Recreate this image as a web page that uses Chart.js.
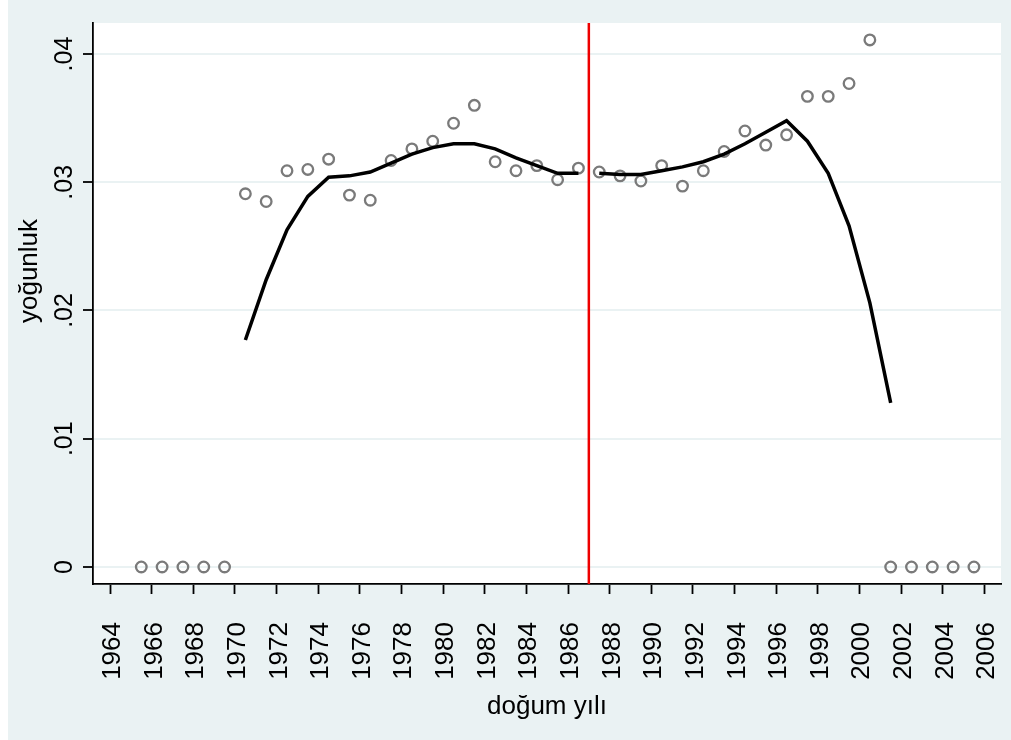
<!DOCTYPE html>
<html>
<head>
<meta charset="utf-8">
<script src="https://cdn.jsdelivr.net/npm/chart.js@4.4.1/dist/chart.umd.min.js"></script>
<style>
    html, body { margin: 0; padding: 0; background: #ffffff; }
    #wrap { position: absolute; left: 8px; top: 0; width: 1003px; height: 740px; background: #EAF2F3; }
</style>
</head>
<body>
<div id="wrap"><canvas id="rd" width="1003" height="740"></canvas></div>
<script>
// ========================================
// Data
// ========================================

// birth-year bins (mid points)
const binYears = [
    1965.5, 1966.5, 1967.5, 1968.5, 1969.5,
    1970.5, 1971.5, 1972.5, 1973.5, 1974.5, 1975.5, 1976.5, 1977.5, 1978.5,
    1979.5, 1980.5, 1981.5, 1982.5, 1983.5, 1984.5, 1985.5, 1986.5,
    1987.5, 1988.5, 1989.5, 1990.5, 1991.5, 1992.5, 1993.5, 1994.5,
    1995.5, 1996.5, 1997.5, 1998.5, 1999.5, 2000.5,
    2001.5, 2002.5, 2003.5, 2004.5, 2005.5
];
// density per bin (hollow circles)
const binDensity = [
    0, 0, 0, 0, 0,
    0.0291, 0.0285, 0.0309, 0.0310, 0.0318, 0.0290, 0.0286, 0.0317, 0.0326,
    0.0332, 0.0346, 0.0360, 0.0316, 0.0309, 0.0313, 0.0302, 0.0311,
    0.0308, 0.0305, 0.0301, 0.0313, 0.0297, 0.0309, 0.0324, 0.0340,
    0.0329, 0.0337, 0.0367, 0.0367, 0.0377, 0.0411,
    0, 0, 0, 0, 0
];

// smoothed fit, left of the cutoff
const fitLeftYears = [
    1970.5, 1971.5, 1972.5, 1973.5, 1974.5, 1975.5, 1976.5, 1977.5, 1978.5,
    1979.5, 1980.5, 1981.5, 1982.5, 1983.5, 1984.5, 1985.5, 1986.5
];
const fitLeftValues = [
    0.0177, 0.0224, 0.0263, 0.0289, 0.0304, 0.0305, 0.0308, 0.0315, 0.0322,
    0.0327, 0.0330, 0.0330, 0.0326, 0.0319, 0.0313, 0.0307, 0.0307
];

// smoothed fit, right of the cutoff
const fitRightYears = [
    1987.5, 1988.5, 1989.5, 1990.5, 1991.5, 1992.5, 1993.5, 1994.5,
    1995.5, 1996.5, 1997.5, 1998.5, 1999.5, 2000.5, 2001.5
];
const fitRightValues = [
    0.0307, 0.0306, 0.0306, 0.0309, 0.0312, 0.0316, 0.0322, 0.0330,
    0.0339, 0.0348, 0.0332, 0.0307, 0.0266, 0.0206, 0.0128
];

const cutoffYear = 1987;

// axis ranges and tick steps
const xMin = 1963.18, xMax = 2006.8, xStep = 2;
const yMin = -0.00133, yMax = 0.04242, yStep = 0.01;

const xTitle = 'doğum yılı';
const yTitle = 'yoğunluk';

// ========================================
// Helpers
// ========================================

const FONT = '"Liberation Sans", Arial, Helvetica, sans-serif';

function toPoints(xs, ys) {
    return xs.map((x, i) => ({ x: x, y: ys[i] }));
}

// Stata style ".04" labels
function formatDensity(v) {
    if (Math.abs(v) < 1e-9) return '0';
    return v.toFixed(2).replace(/^0/, '');
}

// white plot region on the bluish graph region
const plotRegionPlugin = {
    id: 'plotRegion',
    beforeDraw(chart) {
        const { ctx, chartArea } = chart;
        ctx.save();
        ctx.fillStyle = '#ffffff';
        ctx.fillRect(chartArea.left, chartArea.top, chartArea.right - chartArea.left, chartArea.bottom - chartArea.top);
        ctx.restore();
    }
};

// rotated tick labels (read bottom to top) and the y title
const rotatedTextPlugin = {
    id: 'rotatedText',
    afterDraw(chart) {
        const { ctx } = chart;
        const xs = chart.scales.x;
        const ys = chart.scales.y;
        ctx.save();
        ctx.fillStyle = '#000000';
        ctx.textBaseline = 'alphabetic';

        // x tick labels, end of text near the axis
        ctx.textAlign = 'right';
        ctx.font = '26px ' + FONT;
        xs.ticks.forEach(t => {
            const px = xs.getPixelForValue(t.value);
            ctx.save();
            ctx.translate(px + 10, xs.top + 38);
            ctx.rotate(-Math.PI / 2);
            ctx.fillText(String(t.value), 0, 0);
            ctx.restore();
        });

        // y tick labels, centred on the tick
        ctx.textAlign = 'center';
        ctx.font = '25px ' + FONT;
        ys.ticks.forEach(t => {
            const py = ys.getPixelForValue(t.value);
            ctx.save();
            ctx.translate(ys.right - 21, py);
            ctx.rotate(-Math.PI / 2);
            ctx.fillText(formatDensity(t.value), 0, 0);
            ctx.restore();
        });

        // y title
        ctx.font = '26px ' + FONT;
        ctx.save();
        ctx.translate(ys.left + 29, 271);
        ctx.rotate(-Math.PI / 2);
        ctx.fillText(yTitle, 0, 0);
        ctx.restore();

        ctx.restore();
    }
};

// ========================================
// Chart
// ========================================

const ctx = document.getElementById('rd').getContext('2d');
new Chart(ctx, {
    type: 'scatter',
    data: {
        datasets: [
            {
                label: 'cutoff',
                data: [{ x: cutoffYear, y: yMin }, { x: cutoffYear, y: yMax }],
                showLine: true,
                borderColor: '#ee0000',
                borderWidth: 2.5,
                pointRadius: 0,
                order: 0
            },
            {
                label: 'fit left',
                data: toPoints(fitLeftYears, fitLeftValues),
                showLine: true,
                borderColor: '#000000',
                borderWidth: 3.5,
                pointRadius: 0,
                tension: 0,
                order: 1
            },
            {
                label: 'fit right',
                data: toPoints(fitRightYears, fitRightValues),
                showLine: true,
                borderColor: '#000000',
                borderWidth: 3.5,
                pointRadius: 0,
                tension: 0,
                order: 1
            },
            {
                label: yTitle,
                data: toPoints(binYears, binDensity),
                showLine: false,
                pointStyle: 'circle',
                pointRadius: 5.3,
                pointBorderWidth: 2.3,
                pointBorderColor: '#7a7a7a',
                pointBackgroundColor: 'rgba(0,0,0,0)',
                order: 2
            }
        ]
    },
    options: {
        responsive: false,
        animation: false,
        layout: { padding: { top: 23, right: 10, left: 0, bottom: 0 } },
        plugins: {
            legend: { display: false },
            tooltip: { enabled: false }
        },
        scales: {
            x: {
                type: 'linear',
                min: xMin,
                max: xMax,
                afterFit: scale => { scale.height = 156; },
                ticks: { stepSize: xStep, includeBounds: false, autoSkip: false, display: false },
                grid: { drawOnChartArea: false, drawTicks: true, tickLength: 10, tickColor: '#000000', tickWidth: 1.8 },
                border: { display: true, color: '#000000', width: 1.8 },
                title: {
                    display: true,
                    text: xTitle,
                    color: '#000000',
                    font: { family: FONT, size: 26 },
                    padding: { top: 0, bottom: 18 }
                }
            },
            y: {
                type: 'linear',
                min: yMin,
                max: yMax,
                afterFit: scale => { scale.width = 85; },
                ticks: { stepSize: yStep, includeBounds: false, display: false },
                grid: { color: '#EAF2F3', lineWidth: 2, drawTicks: true, tickLength: 10, tickColor: '#000000', tickWidth: 1.8 },
                border: { display: true, color: '#000000', width: 1.8 },
                title: { display: false }
            }
        }
    },
    plugins: [plotRegionPlugin, rotatedTextPlugin]
});
</script>
</body>
</html>
